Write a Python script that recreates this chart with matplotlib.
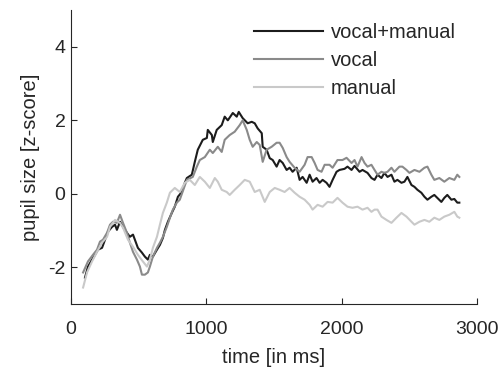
import numpy as np
import matplotlib
matplotlib.use("Agg")
import matplotlib.pyplot as plt

plt.rcParams['font.family'] = ['Liberation Sans', 'DejaVu Sans']
plt.rcParams['axes.unicode_minus'] = False

# values (time in ms, pupil size in z-score)
t_both = [103, 125, 155, 177, 199, 229, 251, 273, 303, 325, 339, 362, 384,
          413, 435, 458, 472, 494, 524, 546, 568, 583, 605, 635, 657, 679,
          694, 716, 745, 767, 790, 819, 841,
          856, 893, 915, 937, 974, 1004, 1011, 1041, 1048, 1077, 1114, 1136,
          1159, 1196, 1225, 1240, 1269, 1306, 1336, 1358, 1380, 1410, 1417,
          1446, 1469, 1491, 1520,
          1542, 1565, 1594, 1616, 1638, 1668, 1690, 1712, 1742, 1764, 1786,
          1815, 1838, 1860, 1889, 1911, 1934, 1963, 1985, 2022, 2044, 2074,
          2096, 2133, 2155, 2192,
          2221, 2244, 2266, 2295, 2317, 2340, 2369, 2391, 2413, 2443, 2465,
          2487, 2517, 2539, 2561, 2590, 2613, 2635, 2664, 2686, 2708, 2738,
          2760, 2782, 2812, 2834, 2856, 2871]
both = [-2.28, -1.98, -1.79, -1.66, -1.52, -1.47, -1.25, -1.03, -0.90, -0.84,
        -0.98, -0.76, -0.90, -1.06, -1.17, -1.11, -1.25, -1.47, -1.60, -1.71,
        -1.79, -1.66, -1.71, -1.52, -1.39, -1.20, -0.98, -0.76, -0.52, -0.35,
        -0.08, 0.05, 0.30,
        0.43, 0.52, 0.87, 1.20, 1.47, 1.52, 1.74, 1.60, 1.41, 1.74, 1.87,
        2.10, 2.00, 2.20, 2.10, 2.23, 2.06, 1.92, 1.96, 1.92, 1.78, 1.65,
        1.28, 1.20, 0.97, 0.92, 0.74,
        0.92, 0.84, 0.65, 0.71, 0.60, 0.71, 0.38, 0.46, 0.30, 0.52, 0.33,
        0.43, 0.30, 0.38, 0.30, 0.19, 0.38, 0.60, 0.65, 0.68, 0.74, 0.65,
        0.76, 0.60, 0.65, 0.57,
        0.43, 0.38, 0.52, 0.43, 0.57, 0.46, 0.52, 0.33, 0.38, 0.30, 0.33,
        0.46, 0.24, 0.19, 0.11, 0.03, -0.08, -0.16, -0.08, -0.03, -0.11,
        -0.22, -0.11, -0.03, -0.16, -0.14, -0.24, -0.24]

t_vocal = [89, 125, 162, 192, 214, 236, 266, 288, 310, 339, 362, 384, 413,
           435, 458, 487, 509, 524, 546, 568, 583, 605, 635, 657, 679, 708,
           731, 753, 782,
           804, 856, 900, 930, 952, 989, 1026, 1048, 1085, 1114, 1136, 1173,
           1210, 1247, 1269, 1299, 1321, 1343, 1373, 1395, 1417, 1446, 1483,
           1520,
           1542, 1565, 1594, 1616, 1653, 1690, 1727, 1749, 1779, 1801, 1823,
           1852, 1875, 1911, 1934, 1970, 2007, 2037, 2074, 2096, 2118, 2148,
           2170, 2192,
           2221, 2244, 2266, 2295, 2317, 2340, 2369, 2391, 2428, 2450, 2480,
           2502, 2539, 2576, 2613, 2635, 2664, 2686, 2723, 2760, 2797, 2834,
           2856, 2871]
vocal = [-2.14, -1.84, -1.66, -1.52, -1.30, -1.25, -1.06, -0.84, -0.76, -0.79,
         -0.57, -0.79, -1.06, -1.33, -1.58, -1.79, -1.98, -2.20, -2.20, -2.14,
         -1.98, -1.71, -1.47, -1.33, -1.17, -0.90, -0.65, -0.43, -0.24,
         -0.16, 0.38, 0.46, 0.74, 0.92, 1.00, 1.20, 1.11, 1.28, 1.14, 1.47,
         1.60, 1.69, 1.87, 2.00, 1.74, 1.47, 1.28, 1.41, 1.33, 0.87, 1.20,
         1.28, 1.39,
         1.39, 1.25, 1.00, 0.87, 0.71, 0.60, 0.79, 1.00, 1.00, 0.84, 0.65,
         0.60, 0.79, 0.79, 0.71, 0.92, 0.92, 0.98, 0.84, 0.92, 0.74, 1.00,
         0.84, 0.74,
         0.79, 0.65, 0.52, 0.60, 0.57, 0.60, 0.71, 0.60, 0.74, 0.74, 0.65,
         0.57, 0.65, 0.60, 0.71, 0.74, 0.52, 0.38, 0.43, 0.33, 0.43, 0.38,
         0.52, 0.46]

t_manual = [89, 118, 155, 192, 229, 266, 288, 325, 362, 384, 421, 458, 494,
            531, 561, 583, 605, 635, 657, 679, 708, 731, 767,
            804, 841, 878, 915, 952, 989, 1026, 1063, 1085, 1114, 1151, 1173,
            1210, 1247, 1284, 1321, 1358, 1395, 1432, 1469, 1506,
            1542, 1579, 1616, 1653, 1690, 1727, 1764, 1786, 1823, 1860, 1897,
            1934, 1970, 2007, 2044, 2081, 2118, 2155, 2192,
            2221, 2244, 2266, 2295, 2332, 2369, 2406, 2443, 2480, 2517, 2539,
            2576, 2613, 2649, 2686, 2723, 2760, 2797, 2834, 2856, 2871]
manual = [-2.55, -2.14, -1.84, -1.58, -1.33, -1.17, -0.90, -0.71, -0.79, -0.92,
          -1.25, -1.44, -1.66, -1.84, -1.98, -1.79, -1.47, -1.17, -0.84, -0.52,
          -0.24, 0.03, 0.16,
          0.05, 0.30, 0.38, 0.24, 0.46, 0.33, 0.16, 0.43, 0.33, 0.11, 0.05,
          -0.03, 0.11, 0.24, 0.38, 0.33, 0.05, 0.11, -0.22, 0.05, 0.16,
          0.11, 0.05, 0.16, 0.03, -0.08, -0.16, -0.30, -0.43, -0.30, -0.35,
          -0.22, -0.24, -0.11, -0.24, -0.35, -0.38, -0.35, -0.43, -0.38,
          -0.49, -0.43, -0.43, -0.62, -0.71, -0.79, -0.65, -0.52, -0.62, -0.76,
          -0.84, -0.76, -0.71, -0.76, -0.65, -0.71, -0.62, -0.57, -0.49, -0.62,
          -0.65]

labels = ['vocal+manual', 'vocal', 'manual']
colors = ['#1c1c1c', '#8a8a8a', '#c9c9c9']

fig = plt.figure(figsize=(5.04, 3.74), dpi=100)
ax = fig.add_axes([0.141, 0.187, 0.805, 0.786])

ax.plot(t_both, both, color=colors[0], lw=1.5, label=labels[0])
ax.plot(t_vocal, vocal, color=colors[1], lw=1.5, label=labels[1])
ax.plot(t_manual, manual, color=colors[2], lw=1.5, label=labels[2])

ax.set_xlim(0, 3000)
ax.set_ylim(-3, 5)
ax.set_xticks([0, 1000, 2000, 3000])
ax.set_yticks([-2, 0, 2, 4])
ax.spines['top'].set_visible(False)
ax.spines['right'].set_visible(False)
for s in ('left', 'bottom'):
    ax.spines[s].set_color('#262626')
    ax.spines[s].set_linewidth(0.8)
ax.tick_params(direction='in', length=4, width=0.8, color='#262626',
               labelsize=14, labelcolor='#262626')
ax.tick_params(axis='x', pad=12.5)
ax.tick_params(axis='y', pad=4)

ax.set_xlabel('time [in ms]', fontsize=14.5, color='#262626', labelpad=7)
ax.set_ylabel('pupil size [z-score]', fontsize=14.5, color='#262626', labelpad=6)

ax.legend(loc='upper left', bbox_to_anchor=(254 / 504, 1 - 23 / 374),
          bbox_transform=fig.transFigure, frameon=False, borderpad=0,
          borderaxespad=0, handlelength=3.45, handletextpad=0.35,
          labelspacing=0.45, fontsize=14.5, labelcolor='#262626')

fig.savefig('out.png', dpi=100)
